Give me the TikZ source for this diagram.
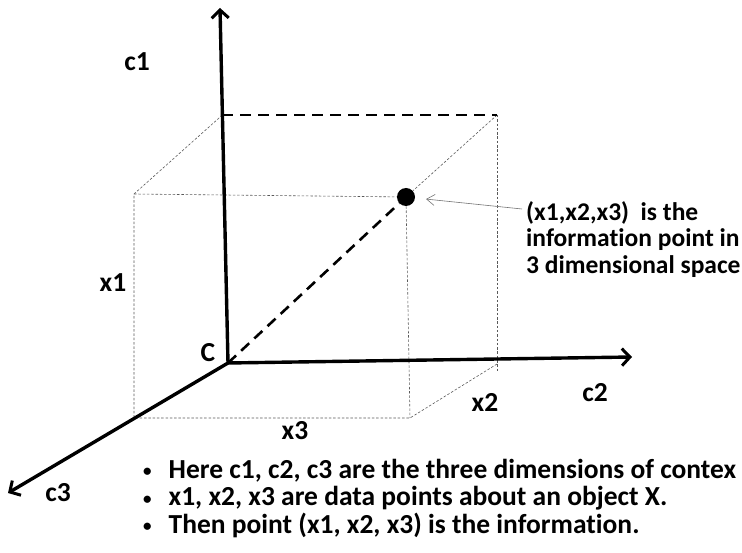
\documentclass[tikz,border=0pt]{standalone}
\usepackage{fontspec}
\setmainfont{Carlito}[Ligatures=NoCommon]
\usetikzlibrary{arrows.meta,positioning}
\tikzset{
  >={Straight Barb[length=8pt,width=17pt,line width=3pt]},
  axis/.style={->,line width=3.4pt},
  edge/.style={draw=black!65,line width=0.6pt,dash pattern=on 2.5pt off 1.8pt},
  guide/.style={line width=2.6pt,dash pattern=on 11pt off 7pt},
  lbl/.style={font=\fontsize{27.5}{28}\selectfont\bfseries,inner sep=0pt},
  txt/.style={lbl,anchor=base west},
  note/.style={-{Straight Barb[length=8pt,width=11pt,line width=0.6pt]},draw=black!55,line width=0.6pt},
}
\newcommand{\bul}{{\fontsize{17}{17}\selectfont\raisebox{1.5pt}{\textbullet}}\hspace{17pt}}
\begin{document}
\begin{tikzpicture}[x=1pt,y=-1pt]
\useasboundingbox (0,0) rectangle (742,553);
% axes and box corners
\coordinate (O) at (228,363);
\coordinate (c1tip) at (220,8);
\coordinate (c2tip) at (632,357);
\coordinate (c3tip) at (8,493);
\coordinate (btl) at (222.4,115);
\coordinate (btr) at (497,115);
\coordinate (ftl) at (134,194);
\coordinate (fbl) at (134,418);
\coordinate (fbr) at (410,418);
\coordinate (brb) at (497,372);
\coordinate (brm) at (497,364);
\node[circle,fill,inner sep=0pt,minimum size=18pt] (pt) at (406,197) {};
% box
\draw[edge] (btl) -- (ftl) -- (fbl) -- (fbr);
\draw[edge] (ftl) -- (pt) -- (fbr);
\draw[edge] (btr) -- (pt);
\draw[edge] (btr) -- (brb);
\draw[edge] (brm) -- (fbr);
% axes
\draw[axis] (O) -- (c1tip);
\draw[axis] (O) -- (c2tip);
\draw[axis] (O) -- (c3tip);
\draw[guide,line width=2.2pt] (btl) -- (btr);
\draw[guide] (O) -- (pt);
% labels
\node[lbl] (lc1) at (137,62) {c1};
\node[lbl] (lc2) at (595,393) {c2};
\node[lbl] (lc3) at (58,493) {c3};
\node[lbl] (lC) at (208,353) {C};
\node[lbl] (lx1) at (113,283) {x1};
\node[lbl] (lx2) at (485,402) {x2};
\node[lbl] (lx3) at (295,431) {x3};
% annotation
\node[lbl,align=left,anchor=north west,font=\fontsize{25.5}{26.5}\selectfont\bfseries] (info) at (526,201)
  {(x1,x2,x3)\ \ is the\\information point in\\3 dimensional space};
\coordinate (tail) at (522,209);
\draw[note,shorten >=11pt] (tail) -- (pt);
% bullets
\node[txt] (b1) at (143,478) {\bul Here c1, c2, c3 are the three dimensions of contex};
\node[txt] (b2) at (143,505.5) {\bul x1, x2, x3 are data points about an object X.};
\node[txt] (b3) at (143,533) {\bul Then point (x1, x2, x3) is the information.};
\end{tikzpicture}
\end{document}
